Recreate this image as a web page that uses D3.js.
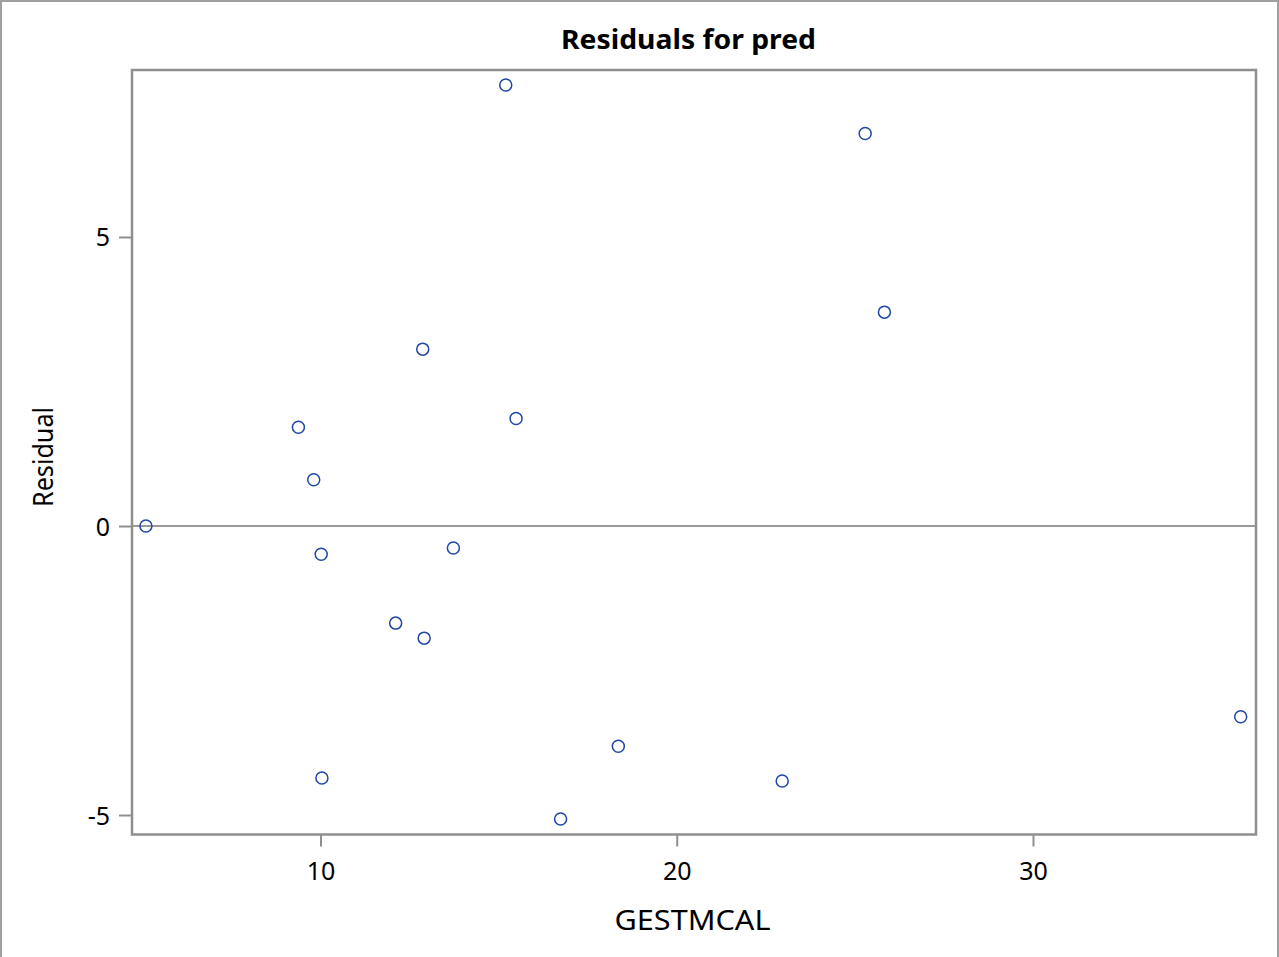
<!DOCTYPE html>
<html>
<head>
<meta charset="utf-8">
<script src="https://cdn.jsdelivr.net/npm/d3@7"></script>
<style>
  html, body { margin: 0; padding: 0; background: #fff; }
  svg { display: block; }
  text { font-family: "Noto Sans", "Open Sans", sans-serif; fill: #000; }
</style>
</head>
<body>
<svg id="chart" width="1279" height="957"></svg>
<script>
// ---- data ----
const gestmcal = [5.10, 15.20, 25.29, 25.83, 12.87, 15.49, 9.38, 9.81, 10.02, 13.73, 12.11, 12.91, 18.36, 10.04, 22.96, 16.74, 35.83];
const residual = [0.00, 7.63, 6.79, 3.70, 3.06, 1.86, 1.71, 0.80, -0.49, -0.38, -1.68, -1.94, -3.81, -4.36, -4.41, -5.07, -3.30];
const xTicks = [10, 20, 30];
const yTicks = [-5, 0, 5];
const titleText = "Residuals for pred";
const xLabel = "GESTMCAL";
const yLabel = "Residual";

// ---- layout ----
const W = 1279, H = 957;
const plot = { left: 132, right: 1256, top: 70, bottom: 834.5 };
const gray = "#8f8f8f";

const svg = d3.select("#chart");

// outer border
svg.append("rect")
  .attr("x", 1).attr("y", 1).attr("width", W - 2).attr("height", H + 4)
  .attr("fill", "none").attr("stroke", "#a0a0a0").attr("stroke-width", 2);

const x = d3.scaleLinear().domain([4.709, 36.26]).range([plot.left, plot.right]);
const y = d3.scaleLinear().domain([-5.337, 7.889]).range([plot.bottom, plot.top]);

// reference line at 0
svg.append("line")
  .attr("x1", plot.left).attr("x2", plot.right)
  .attr("y1", y(0)).attr("y2", y(0))
  .attr("stroke", "#9a9a9a").attr("stroke-width", 2);

// axes
const xAxis = svg.append("g")
  .attr("transform", `translate(0,${plot.bottom})`)
  .call(d3.axisBottom(x).tickValues(xTicks).tickSize(12).tickPadding(16).tickFormat(d3.format("d")));
const yAxis = svg.append("g")
  .attr("transform", `translate(${plot.left},0)`)
  .call(d3.axisLeft(y).tickValues(yTicks).tickSize(13).tickPadding(9).tickFormat(d => d < 0 ? "-" + Math.abs(d) : d));

[xAxis, yAxis].forEach(g => {
  g.select(".domain").remove();
  g.selectAll(".tick line").attr("stroke", gray).attr("stroke-width", 2);
  g.selectAll(".tick text").attr("font-size", 25).attr("fill", "#000")
    .style("font-family", '"Noto Sans", "Open Sans", sans-serif');
});
yAxis.selectAll(".tick text").attr("dy", "0.36em");

// frame
svg.append("rect")
  .attr("x", plot.left).attr("y", plot.top)
  .attr("width", plot.right - plot.left).attr("height", plot.bottom - plot.top)
  .attr("fill", "none").attr("stroke", gray).attr("stroke-width", 2.5);

// points
svg.append("g").selectAll("circle")
  .data(gestmcal.map((g, i) => [g, residual[i]]))
  .join("circle")
  .attr("cx", d => x(d[0]))
  .attr("cy", d => y(d[1]))
  .attr("r", 6)
  .attr("fill", "none")
  .attr("stroke", "#1f46a8")
  .attr("stroke-width", 1.5);

// title
svg.append("text")
  .attr("x", 688.5).attr("y", 49)
  .attr("text-anchor", "middle")
  .attr("font-size", 27).attr("font-weight", "bold")
  .attr("textLength", 255).attr("lengthAdjust", "spacingAndGlyphs")
  .text(titleText);

// x label
svg.append("text")
  .attr("x", 692.5).attr("y", 930)
  .attr("text-anchor", "middle")
  .attr("font-size", 26.5)
  .attr("textLength", 156).attr("lengthAdjust", "spacingAndGlyphs")
  .text(xLabel);

// y label
svg.append("text")
  .attr("transform", `translate(53,457) rotate(-90)`)
  .attr("text-anchor", "middle")
  .attr("font-size", 27)
  .attr("textLength", 100).attr("lengthAdjust", "spacingAndGlyphs")
  .text(yLabel);
</script>
</body>
</html>
